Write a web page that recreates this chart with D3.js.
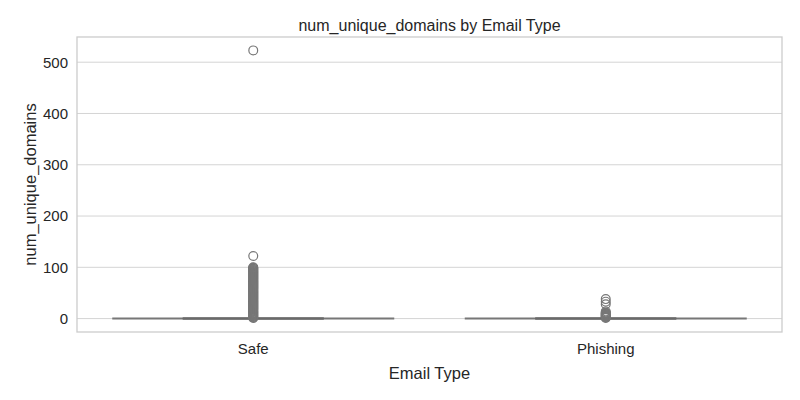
<!DOCTYPE html>
<html>
<head>
<meta charset="utf-8">
<script src="https://cdn.jsdelivr.net/npm/d3@7"></script>
<style>
  body { margin: 0; background: #fff; }
  svg text { font-family: "Liberation Sans", Arial, sans-serif; fill: #262626; }
</style>
</head>
<body>
<div id="chart"></div>
<script>
// categories and summary stats (all quartiles collapse to 0)
const categories = ['Safe', 'Phishing'];
const q1 = [0, 0];
const medians = [0, 0];
const q3 = [0, 0];
const whiskLow = [0, 0];
const whiskHigh = [0, 0];

// outliers
const safeOutliers = [1, 2, 3, 4, 5, 6, 7, 8, 9, 10, 11, 12, 13, 14, 15, 16, 17, 18, 19, 20,
  21, 22, 23, 24, 25, 26, 27, 28, 29, 30, 31, 32, 33, 34, 35, 36, 37, 38, 39, 40,
  41, 42, 43, 44, 45, 46, 47, 48, 49, 50, 51, 52, 53, 54, 55, 56, 57, 58, 59, 60,
  61, 62, 63, 64, 65, 66, 67, 68, 69, 70, 71, 72, 73, 74, 75, 76, 77, 78, 79, 80,
  81, 82, 83, 84, 85, 86, 87, 88, 89, 90, 91, 92, 93, 94, 95, 96, 97, 98, 99, 100,
  122, 523];
const phishingOutliers = [1, 2, 3, 4, 5, 6, 7, 8, 9, 10, 11, 12, 14, 28, 33, 38];
const outliers = [safeOutliers, phishingOutliers];

const yTicks = [0, 100, 200, 300, 400, 500];

const width = 800, height = 400;
const margin = { top: 37, right: 18, bottom: 68, left: 77 };
const innerW = width - margin.left - margin.right;
const innerH = height - margin.top - margin.bottom;
const lineColor = '#777777';

const svg = d3.select('#chart').append('svg')
  .attr('width', width)
  .attr('height', height);

const chart = svg.append('g')
  .attr('transform', `translate(${margin.left},${margin.top})`);

const allVals = outliers.flat().concat(q1, q3);
const yMin = d3.min(allVals), yMax = d3.max(allVals);
const pad = (yMax - yMin) * 0.05;

const xScale = d3.scaleBand()
  .domain(categories)
  .range([0, innerW]);

const yScale = d3.scaleLinear()
  .domain([yMin - pad, yMax + pad])
  .range([innerH, 0]);

// grid lines
chart.append('g')
  .selectAll('line')
  .data(yTicks)
  .join('line')
  .attr('x1', 0)
  .attr('x2', innerW)
  .attr('y1', d => yScale(d))
  .attr('y2', d => yScale(d))
  .attr('stroke', '#d4d4d4')
  .attr('stroke-width', 1);

// y axis labels
const yAxis = d3.axisLeft(yScale).tickValues(yTicks).tickSize(0).tickPadding(9);
chart.append('g')
  .call(yAxis)
  .call(g => g.select('.domain').remove())
  .selectAll('text')
  .style('font-size', '15px')
  .attr('fill', '#262626');

// x axis labels
const xAxis = d3.axisBottom(xScale).tickSize(0).tickPadding(11);
chart.append('g')
  .attr('transform', `translate(0,${innerH})`)
  .call(xAxis)
  .call(g => g.select('.domain').remove())
  .selectAll('text')
  .style('font-size', '15px')
  .attr('fill', '#262626');

// boxes
const boxW = xScale.bandwidth() * 0.8;
const capW = boxW * 0.5;
const boxes = chart.append('g')
  .selectAll('g')
  .data(categories)
  .join('g')
  .attr('transform', d => `translate(${xScale(d) + xScale.bandwidth() / 2},0)`);

boxes.append('line') // whisker
  .attr('x1', 0).attr('x2', 0)
  .attr('y1', (d, i) => yScale(whiskLow[i]))
  .attr('y2', (d, i) => yScale(whiskHigh[i]))
  .attr('stroke', lineColor).attr('stroke-width', 2);

boxes.append('rect')
  .attr('x', -boxW / 2)
  .attr('width', boxW)
  .attr('y', (d, i) => yScale(q3[i]))
  .attr('height', (d, i) => yScale(q1[i]) - yScale(q3[i]))
  .attr('fill', '#8fb4d6')
  .attr('stroke', lineColor)
  .attr('stroke-width', 2);

boxes.append('line') // median
  .attr('x1', -boxW / 2).attr('x2', boxW / 2)
  .attr('y1', (d, i) => yScale(medians[i]))
  .attr('y2', (d, i) => yScale(medians[i]))
  .attr('stroke', lineColor).attr('stroke-width', 2);

['low', 'high'].forEach(k => {
  boxes.append('line') // caps
    .attr('x1', -capW / 2).attr('x2', capW / 2)
    .attr('y1', (d, i) => yScale(k === 'low' ? whiskLow[i] : whiskHigh[i]))
    .attr('y2', (d, i) => yScale(k === 'low' ? whiskLow[i] : whiskHigh[i]))
    .attr('stroke', '#6a6a6a').attr('stroke-width', 2);
});

// fliers
boxes.each(function (d, i) {
  d3.select(this).selectAll('circle')
    .data(outliers[i])
    .join('circle')
    .attr('cx', 0)
    .attr('cy', v => yScale(v))
    .attr('r', 4.4)
    .attr('fill', 'none')
    .attr('stroke', lineColor)
    .attr('stroke-width', 1.2);
});

// frame
chart.append('rect')
  .attr('width', innerW)
  .attr('height', innerH)
  .attr('fill', 'none')
  .attr('stroke', '#cccccc')
  .attr('stroke-width', 1.3);

// title and axis titles
svg.append('text')
  .attr('x', margin.left + innerW / 2)
  .attr('y', 31)
  .attr('text-anchor', 'middle')
  .style('font-size', '16px')
  .text('num_unique_domains by Email Type');

svg.append('text')
  .attr('x', margin.left + innerW / 2)
  .attr('y', 379)
  .attr('text-anchor', 'middle')
  .style('font-size', '16.5px')
  .text('Email Type');

svg.append('text')
  .attr('transform', `translate(36,${margin.top + innerH / 2}) rotate(-90)`)
  .attr('text-anchor', 'middle')
  .style('font-size', '16.5px')
  .text('num_unique_domains');
</script>
</body>
</html>
